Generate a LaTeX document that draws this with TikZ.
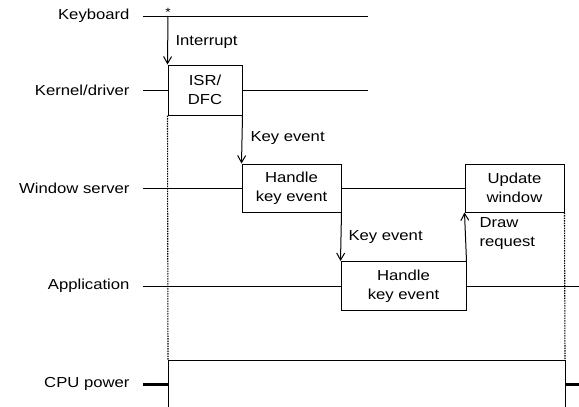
\documentclass[tikz,border=0pt]{standalone}
\usepackage{fontspec}
\setmainfont{Liberation Sans}[FakeStretch=1.15]
\usetikzlibrary{arrows.meta}
\begin{document}
\begin{tikzpicture}[x=1pt,y=-1pt,
  line width=1pt,
  lbl/.style={font=\fontsize{14.5}{19}\selectfont, inner sep=0pt},
  lane/.style={lbl, anchor=east},
  note/.style={lbl, anchor=west, align=left},
  box/.style={draw, lbl, align=center, inner sep=0pt},
  msg/.style={-{Straight Barb[length=7pt,width=8pt]}},
  dots/.style={line width=1.1pt, dash pattern=on 1.6pt off 0.9pt},
  thick stub/.style={line width=3pt}
]
\useasboundingbox (0,0) rectangle (579,407);
% lane labels
\node[lane] (kbt) at (130,16) {Keyboard};
\node[lane] (knt) at (130,90) {Kernel/driver};
\node[lane] (wst) at (130,188) {Window server};
\node[lane] (apt) at (130,286) {Application};
\node[lane] (cpt) at (130,384) {CPU power};
% boxes
\node[box, minimum width=74pt, minimum height=50pt] (isr) at (205,90) {ISR/\\DFC};
\node[box, minimum width=99pt, minimum height=48pt] (hws) at (291.5,188) {Handle\\key event};
\node[box, minimum width=99pt, minimum height=48pt] (upd) at (514.5,188) {Update\\window};
\node[box, minimum width=125pt, minimum height=49pt] (app) at (403.5,286) {Handle\\key event};
% coordinates
\coordinate (kbL) at (143,16);
\coordinate (kbR) at (368,16);
\coordinate (kbI) at (168,16);
\coordinate (knL) at (143,90);
\coordinate (knR) at (368,90);
\coordinate (wsL) at (143,188);
\coordinate (apL) at (143,286);
\coordinate (apR) at (579,286);
\coordinate (cpL) at (168,360);
\coordinate (cpR) at (565,360);
\coordinate (cpLb) at (168,407);
\coordinate (cpRb) at (565,407);
\coordinate (stL) at (143,384);
\coordinate (stLe) at (168,384);
\coordinate (stR) at (565,384);
\coordinate (stRe) at (579,384);
% star
\node[lbl, font=\fontsize{12}{12}\selectfont] (star) at (168,12) {*};
% lane lines
\draw (kbL) -- (kbR);
\draw (knL) -- (isr.west);
\draw (isr.east) -- (knR);
\draw (wsL) -- (hws.west);
\draw (hws.east) -- (upd.west);
\draw (apL) -- (app.west);
\draw (app.east) -- (apR);
% messages
\draw[msg] (kbI) -- (isr.north west);
\draw[msg] (isr.south east) -- (hws.north west);
\draw[msg] (hws.south east) -- (app.north west);
\draw[msg] (app.north east) -- (upd.south west);
% message labels
\node[note] (int) at (175,42) {Interrupt};
\node[note] (ke1) at (250,138) {Key event};
\node[note] (ke2) at (348,237) {Key event};
\node[note] (drq) at (479,234) {Draw\\request};
% dotted
\draw[dots] (isr.south west) -- (cpL);
\draw[dots] (upd.south east) -- (cpR);
% CPU power
\draw (cpLb) -- (cpL) -- (cpR) -- (cpRb);
\draw[thick stub] (stL) -- (stLe);
\draw[thick stub] (stR) -- (stRe);
\end{tikzpicture}
\end{document}
